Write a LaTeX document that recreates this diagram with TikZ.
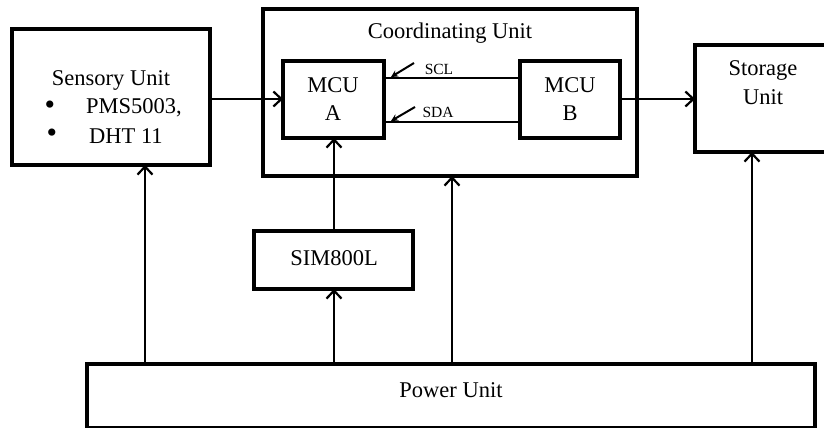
\documentclass[tikz,border=0pt]{standalone}
\usepackage{fontspec}
\setmainfont{Liberation Serif}
\usetikzlibrary{arrows.meta}
\begin{document}
\begin{tikzpicture}[x=1pt,y=-1pt,
  box/.style={draw,line width=3.4pt},
  lbl/.style={font=\fontsize{22.5}{26}\selectfont,inner sep=0pt},
  bul/.style={font=\fontsize{30}{30}\selectfont,inner sep=0pt},
  small/.style={font=\fontsize{15.5}{18}\selectfont,inner sep=0pt},
  conn/.style={line width=2.2pt,-{Straight Barb[length=8pt,width=15pt,line width=2.2pt]}},
  wire/.style={line width=2.2pt},
  tiny/.style={line width=2pt,-{Stealth[length=7pt,width=7pt]}}]
\useasboundingbox (0,0) rectangle (824,428);
\begin{scope}
\clip (0,0) rectangle (824,428);
% boxes
\draw[box] (12,29) rectangle (210,165);
\coordinate (sensN) at (145,165);
\coordinate (sensE) at (210,99);
\draw[box] (263,9) rectangle (637,176);
\draw[box] (283,61) rectangle (384,138);
\draw[box] (520,61) rectangle (620,138);
\draw[box] (695,45) rectangle (840,152);
\draw[box] (254,231) rectangle (413,289);
\draw[box] (87,364) rectangle (815,428);
% named anchor coordinates
\coordinate (mcuaW) at (283,99);
\coordinate (mcuaS) at (334,138);
\coordinate (mcubE) at (620,99);
\coordinate (storW) at (695,99);
\coordinate (storS) at (752,152);
\coordinate (coordS) at (452,176);
\coordinate (simN) at (334,231);
\coordinate (simS) at (334,289);
\coordinate (pw1) at (145,364);
\coordinate (pw2) at (334,364);
\coordinate (pw3) at (452,364);
\coordinate (pw4) at (752,364);
\coordinate (sclA) at (384,78);
\coordinate (sclB) at (520,78);
\coordinate (sdaA) at (384,122);
\coordinate (sdaB) at (520,122);
\coordinate (sclT0) at (414,63);
\coordinate (sclT1) at (391,77);
\coordinate (sdaT0) at (415,107);
\coordinate (sdaT1) at (391,121);
% texts
\node[lbl] (sens) at (111,80) {Sensory Unit};
\node[bul] (b1) at (50,108) {\textbullet};
\node[lbl,anchor=west] (p1) at (86,108) {PMS5003,};
\node[bul] (b2) at (52,136) {\textbullet};
\node[lbl,anchor=west] (p2) at (89,136) {DHT 11};
\node[lbl] (coord) at (450,33) {Coordinating Unit};
\node[lbl] (ma1) at (333,85) {MCU};
\node[lbl] (ma2) at (333,113) {A};
\node[lbl] (mb1) at (570,85) {MCU};
\node[lbl] (mb2) at (570,113) {B};
\node[lbl] (st1) at (763,70) {Storage};
\node[lbl] (st2) at (763,97) {Unit};
\node[lbl] (sim) at (334,258) {SIM800L};
\node[lbl] (pow) at (451,390) {Power Unit};
\node[small] (scl) at (439,69) {SCL};
\node[small] (sda) at (438,112) {SDA};
% connectors
\draw[conn] (sensE) -- (mcuaW);
\draw[conn] (mcubE) -- (storW);
\draw[wire] (sclA) -- (sclB);
\draw[wire] (sdaA) -- (sdaB);
\draw[tiny] (sclT0) -- (sclT1);
\draw[tiny] (sdaT0) -- (sdaT1);
\draw[conn] (simN) -- (mcuaS);
\draw[conn] (pw1) -- (sensN);
\draw[conn] (pw2) -- (simS);
\draw[conn] (pw3) -- (coordS);
\draw[conn] (pw4) -- (storS);
\end{scope}
\end{tikzpicture}
\end{document}
